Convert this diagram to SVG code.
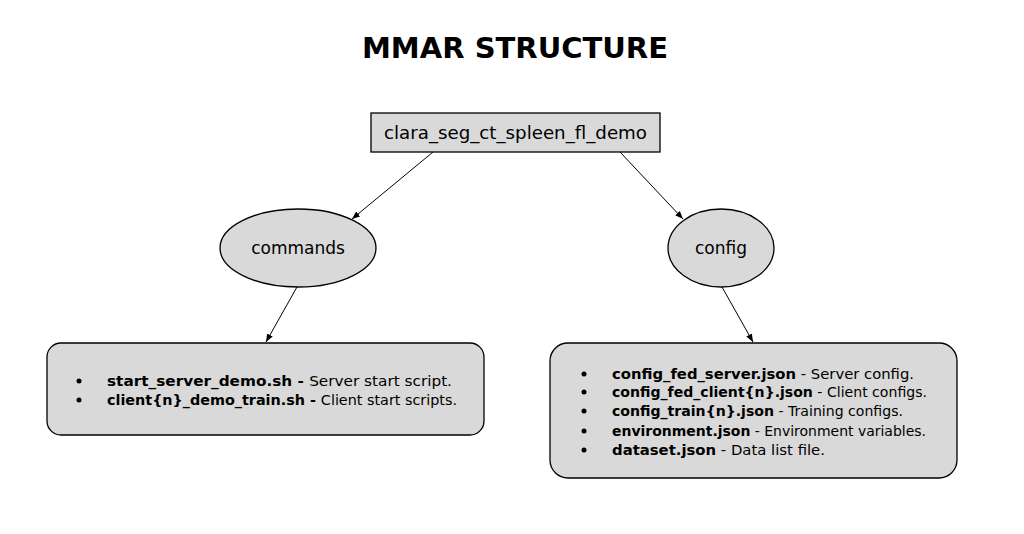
<svg xmlns="http://www.w3.org/2000/svg" width="1024" height="534" viewBox="0 0 1024 534">
<style>
text{font-family:"DejaVu Sans","Noto Sans",sans-serif;fill:#000}
.shape{fill:#d9d9d9;stroke:#000;stroke-width:1.3}
.title{font-size:28px;font-weight:bold}
.lbl{font-size:17px}
.item{font-size:14px}
.b{font-weight:bold}
.conn{stroke:#000;stroke-width:1;fill:none;marker-end:url(#ah)}
</style>
<defs>
<marker id="ah" viewBox="0 0 10 10" refX="10" refY="5" markerWidth="8" markerHeight="8" orient="auto" markerUnits="userSpaceOnUse">
<path d="M0,1 L10,5 L0,9 z" fill="#000"/>
</marker>
</defs>
<rect width="1024" height="534" fill="#fff"/>
<text class="title" x="362" y="58" textLength="306" lengthAdjust="spacingAndGlyphs">MMAR STRUCTURE</text>
<g id="connectors">
<line class="conn" x1="433" y1="152" x2="352" y2="219"/>
<line class="conn" x1="620" y1="152" x2="683" y2="219"/>
<line class="conn" x1="297" y1="287" x2="266" y2="342"/>
<line class="conn" x1="722" y1="287" x2="753" y2="342"/>
</g>
<g id="root">
<rect class="shape" x="371" y="113" width="289" height="39"/>
<text class="lbl" x="384" y="139" textLength="263" lengthAdjust="spacingAndGlyphs">clara_seg_ct_spleen_fl_demo</text>
</g>
<g id="commands">
<ellipse class="shape" cx="298" cy="248" rx="78" ry="39"/>
<text class="lbl" x="298" y="254" text-anchor="middle">commands</text>
</g>
<g id="config">
<ellipse class="shape" cx="721" cy="248" rx="53" ry="39"/>
<text class="lbl" x="721" y="254" text-anchor="middle">config</text>
</g>
<g id="commands-files">
<rect class="shape" x="47" y="343" width="437" height="92" rx="14"/>
<circle cx="79" cy="381" r="2.5"/>
<circle cx="79" cy="400" r="2.5"/>
<text class="item" x="107" y="386" textLength="345" lengthAdjust="spacingAndGlyphs"><tspan class="b">start_server_demo.sh - </tspan> Server start script.</text>
<text class="item" x="107" y="405" textLength="350" lengthAdjust="spacingAndGlyphs"><tspan class="b">client{n}_demo_train.sh - </tspan> Client start scripts.</text>
</g>
<g id="config-files">
<rect class="shape" x="550" y="343" width="407" height="135" rx="18"/>
<circle cx="584" cy="374" r="2.5"/>
<circle cx="584" cy="392" r="2.5"/>
<circle cx="584" cy="411" r="2.5"/>
<circle cx="584" cy="431" r="2.5"/>
<circle cx="584" cy="450" r="2.5"/>
<text class="item" x="612" y="379" textLength="302" lengthAdjust="spacingAndGlyphs"><tspan class="b">config_fed_server.json</tspan> - Server config.</text>
<text class="item" x="612" y="397" textLength="315" lengthAdjust="spacingAndGlyphs"><tspan class="b">config_fed_client{n}.json</tspan> - Client configs.</text>
<text class="item" x="612" y="416" textLength="291" lengthAdjust="spacingAndGlyphs"><tspan class="b">config_train{n}.json</tspan> - Training configs.</text>
<text class="item" x="612" y="436" textLength="314" lengthAdjust="spacingAndGlyphs"><tspan class="b">environment.json</tspan> - Environment variables.</text>
<text class="item" x="612" y="455" textLength="213" lengthAdjust="spacingAndGlyphs"><tspan class="b">dataset.json</tspan> - Data list file.</text>
</g>
</svg>
